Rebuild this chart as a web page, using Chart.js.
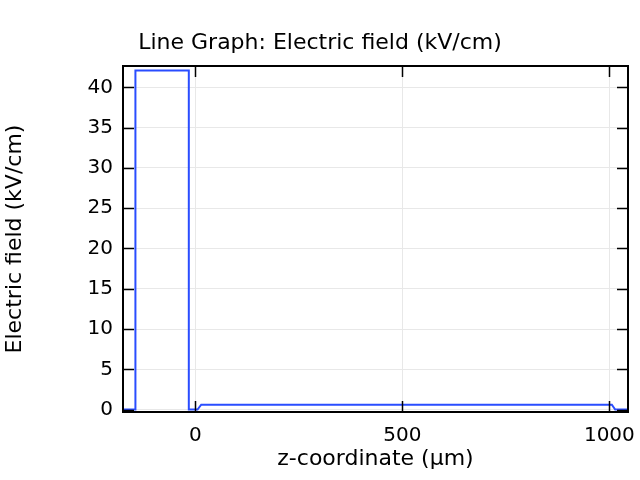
<!DOCTYPE html>
<html>
<head>
<meta charset="utf-8">
<script src="https://cdn.jsdelivr.net/npm/chart.js@4"></script>
<style>
  html, body { margin: 0; padding: 0; background: #fff; }
  #wrap { width: 640px; height: 480px; }
</style>
</head>
<body>
<div id="wrap"><canvas id="chart" width="640" height="480"></canvas></div>
<script>
  // z-coordinate (µm) и поле (kV/cm)
  const zCoord = [-175, -145, -145, -16, -16, 5, 14, 1006, 1014, 1045];
  const field = [0, 0, 42.1, 42.1, 0, 0, 0.6, 0.6, 0, 0];
  const xTicks = [0, 500, 1000];
  const yTicks = [0, 5, 10, 15, 20, 25, 30, 35, 40];

  const FONT = 'DejaVu Sans';

  // рамка вокруг области графика и засечки внутрь
  const frameTicks = {
    id: 'frameTicks',
    afterDraw(chart) {
      const { ctx, chartArea: a, scales } = chart;
      const len = 11;
      ctx.save();
      ctx.strokeStyle = '#000';
      ctx.lineWidth = 1.5;
      ctx.beginPath();
      xTicks.forEach(v => {
        const px = Math.round(scales.x.getPixelForValue(v)) + 0.5;
        ctx.moveTo(px, a.bottom); ctx.lineTo(px, a.bottom - len);
        ctx.moveTo(px, a.top); ctx.lineTo(px, a.top + len);
      });
      yTicks.forEach(v => {
        const py = Math.round(scales.y.getPixelForValue(v)) + 0.5;
        ctx.moveTo(a.left, py); ctx.lineTo(a.left + len, py);
        ctx.moveTo(a.right, py); ctx.lineTo(a.right - len, py);
      });
      ctx.stroke();
      ctx.lineWidth = 2;
      ctx.strokeRect(a.left, a.top, a.right - a.left, a.bottom - a.top);
      ctx.restore();
    }
  };

  new Chart(document.getElementById('chart'), {
    type: 'line',
    data: {
      datasets: [{
        data: zCoord.map((z, i) => ({ x: z, y: field[i] })),
        borderColor: '#2a4dff',
        borderWidth: 2,
        pointRadius: 0,
        fill: false,
        tension: 0
      }]
    },
    options: {
      responsive: false,
      animation: false,
      layout: { padding: 0 },
      plugins: {
        legend: { display: false },
        tooltip: { enabled: false },
        title: {
          display: true,
          text: 'Line Graph: Electric field (kV/cm)',
          color: '#000',
          font: { family: FONT, size: 22, weight: 'normal' },
          padding: { top: 30, bottom: 9.6 }
        }
      },
      scales: {
        x: {
          type: 'linear',
          min: -175,
          max: 1045,
          afterBuildTicks: s => { s.ticks = xTicks.map(v => ({ value: v })); },
          afterFit: s => {
            s.height = 68;
            s.paddingLeft = 0;
            s.paddingRight = 0;
          },
          ticks: {
            color: '#000',
            font: { family: FONT, size: 20 },
            padding: 12,
            maxRotation: 0,
            callback: v => String(v)
          },
          grid: { color: '#e8e8e8', drawTicks: false },
          border: { display: false },
          title: {
            display: true,
            text: 'z-coordinate (µm)',
            color: '#000',
            font: { family: FONT, size: 22 },
            padding: { top: 0, bottom: 8 }
          }
        },
        y: {
          min: -0.3,
          max: 42.65,
          afterBuildTicks: s => { s.ticks = yTicks.map(v => ({ value: v })); },
          afterFit: s => { s.width = 123; },
          ticks: { color: '#000', font: { family: FONT, size: 20 }, padding: 10 },
          grid: { color: '#e8e8e8', drawTicks: false },
          border: { display: false },
          title: {
            display: true,
            text: 'Electric field (kV/cm)',
            color: '#000',
            font: { family: FONT, size: 22 },
            padding: { top: 2, bottom: 0 }
          }
        },
        // пустая ось справа, только чтобы оставить поле 12px
        yRight: {
          position: 'right',
          display: true,
          afterFit: s => { s.width = 12; },
          ticks: { display: false },
          grid: { display: false, drawTicks: false },
          border: { display: false }
        }
      }
    },
    plugins: [frameTicks]
  });
</script>
</body>
</html>
